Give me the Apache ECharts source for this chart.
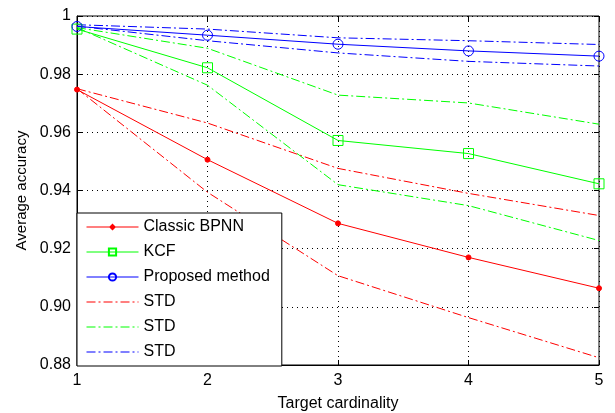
<!DOCTYPE html>
<html>
<head>
<meta charset="utf-8">
<script src="https://cdn.jsdelivr.net/npm/echarts@6/dist/echarts.min.js"></script>
<style>
  html, body { margin: 0; padding: 0; background: #fff; }
  #chart { width: 615px; height: 413px; }
</style>
</head>
<body>
<div id="chart"></div>
<script>
// target cardinality
const xs = [1, 2, 3, 4, 5];

// mean accuracy per method
const bpnn = [0.9747, 0.9506, 0.9287, 0.9170, 0.9064];
const kcf = [0.9955, 0.9822, 0.9572, 0.9527, 0.9423];
const proposed = [0.9964, 0.9934, 0.9903, 0.9880, 0.9862];

// std bands (upper / lower)
const bpnnUp = [0.9750, 0.9632, 0.9476, 0.9390, 0.9314];
const bpnnLo = [0.9750, 0.9394, 0.9107, 0.8963, 0.8825];
const kcfUp = [0.9960, 0.9889, 0.9728, 0.9701, 0.9628];
const kcfLo = [0.9960, 0.9762, 0.9420, 0.9348, 0.9228];
const propUp = [0.9970, 0.9955, 0.9925, 0.9915, 0.9902];
const propLo = [0.9965, 0.9915, 0.9873, 0.9844, 0.9828];

const legendNames = ["Classic BPNN", "KCF", "Proposed method", "STD_r", "STD_g", "STD_b"];

const RED = "#ff0000", GREEN = "#00ff00", BLUE = "#0000ff";
const FONT = "Liberation Sans";
const dashDot = [9, 3, 2, 3];

// legend icons drawn as filled paths (dash-dot sample, line with small dot)
const ICON_DASHDOT = "path://M0,4h9v1h-9z M12,4h2v1h-2z M17,4h9v1h-9z M29,4h2v1h-2z M34,4h9v1h-9z M46,4h2v1h-2z M51,4h1v1h-1z";
const ICON_DOT = "path://M0,4h52v1h-52z M26,1l3.5,3.5l-3.5,3.5l-3.5,-3.5z";

const pts = (arr) => arr.map((v, i) => [xs[i], v]);

const chart = echarts.init(document.getElementById("chart"), null, { renderer: "canvas" });

const gridLine = { show: true, lineStyle: { color: "#000", type: [1, 4], width: 1 } };

function mainLine(name, data, color, symbol, size, fill) {
  return {
    name, type: "line", data: pts(data),
    symbol, symbolSize: size, showSymbol: true,
    itemStyle: { color: fill, borderColor: color, borderWidth: 1 },
    lineStyle: { color, width: 1 },
    emphasis: { disabled: true },
    animation: false, z: 5,
  };
}

function stdLine(name, data, color) {
  return {
    name, type: "line", data: pts(data),
    symbol: "none",
    itemStyle: { color },
    lineStyle: { color, width: 1, type: dashDot },
    emphasis: { disabled: true },
    animation: false, z: 4,
  };
}

const option = {
  backgroundColor: "#fff",
  animation: false,
  textStyle: { fontFamily: FONT },
  grid: {
    left: 77, right: 16, top: 16, bottom: 48,
    containLabel: false, outerBoundsMode: "none",
    show: true, borderColor: "#000", borderWidth: 1, backgroundColor: "#fff",
  },
  xAxis: [
    {
      type: "value", min: 1, max: 5, interval: 1,
      name: "Target cardinality", nameLocation: "middle", nameGap: 31,
      nameTextStyle: { color: "#000", fontSize: 16, fontFamily: FONT },
      axisLine: { lineStyle: { color: "#000" } },
      axisTick: { inside: true, length: 5, lineStyle: { color: "#000" } },
      axisLabel: { color: "#000", fontSize: 16, margin: 8, fontFamily: FONT },
      splitLine: gridLine,
    },
    {
      type: "value", min: 1, max: 5, interval: 1, position: "top",
      axisLine: { show: false },
      axisTick: { inside: true, length: 5, lineStyle: { color: "#000" } },
      axisLabel: { show: false }, splitLine: { show: false },
    },
  ],
  yAxis: [
    {
      type: "value", min: 0.88, max: 1, interval: 0.02,
      name: "Average accuracy", nameLocation: "middle", nameGap: 47, nameRotate: 90,
      nameTextStyle: { color: "#000", fontSize: 15, fontFamily: FONT },
      axisLine: { show: true, lineStyle: { color: "#000" } },
      axisTick: { show: true, inside: true, length: 5, lineStyle: { color: "#000" } },
      axisLabel: {
        color: "#000", fontSize: 16, margin: 6, fontFamily: FONT,
        formatter: (v) => (Math.abs(v - 1) < 1e-9 ? "1" : v.toFixed(2)),
      },
      splitLine: gridLine,
    },
    {
      type: "value", min: 0.88, max: 1, interval: 0.02, position: "right",
      axisLine: { show: false },
      axisTick: { show: true, inside: true, length: 5, lineStyle: { color: "#000" } },
      axisLabel: { show: false }, splitLine: { show: false },
    },
  ],
  legend: {
    orient: "vertical", left: 77, top: 213,
    backgroundColor: "#fff", borderColor: "#000", borderWidth: 1,
    padding: [6, 12, 6, 9],
    itemWidth: 52, itemHeight: 9, itemGap: 9,
    symbolKeepAspect: true,
    lineStyle: { width: 1 },
    selectedMode: false,
    textStyle: { color: "#000", fontSize: 16, fontFamily: FONT },
    formatter: (n) => (n.indexOf("STD") === 0 ? "STD" : n),
    data: legendNames.map((n, i) => {
      if (i === 0) return { name: n, icon: ICON_DOT, itemStyle: { borderWidth: 0 } };
      if (n.indexOf("STD") === 0) return { name: n, icon: ICON_DASHDOT, itemStyle: { borderWidth: 0 } };
      return { name: n };
    }),
    z: 20,
  },
  series: [
    mainLine("Classic BPNN", bpnn, RED, "circle", 5, RED),
    mainLine("KCF", kcf, GREEN, "rect", 10, "rgba(0,0,0,0)"),
    mainLine("Proposed method", proposed, BLUE, "circle", 10, "rgba(0,0,0,0)"),
    stdLine("STD_r", bpnnUp, RED), stdLine("STD_r2", bpnnLo, RED),
    stdLine("STD_g", kcfUp, GREEN), stdLine("STD_g2", kcfLo, GREEN),
    stdLine("STD_b", propUp, BLUE), stdLine("STD_b2", propLo, BLUE),
  ],
};

chart.setOption(option);
</script>
</body>
</html>
